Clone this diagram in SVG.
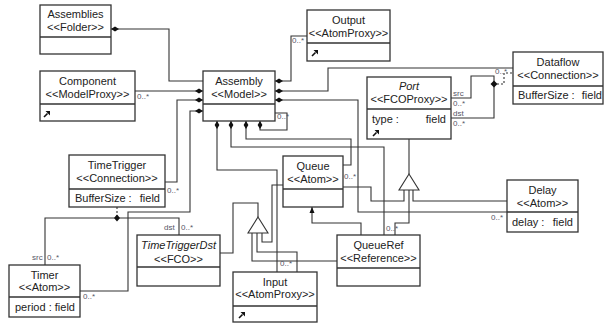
<svg xmlns="http://www.w3.org/2000/svg" width="604" height="325" viewBox="0 0 604 325">
<style>
.box{fill:#fff;stroke:#333;stroke-width:1.3}
.sep{stroke:#333;stroke-width:1.3}
.t{font-family:"Liberation Sans",Arial,sans-serif;font-size:11px;fill:#222;text-anchor:middle}
.a{font-family:"Liberation Sans",Arial,sans-serif;font-size:11px;fill:#222}
.ar{font-family:"Liberation Sans",Arial,sans-serif;font-size:11px;fill:#222;text-anchor:end}
.i{font-style:italic}
.c{fill:none;stroke:#333;stroke-width:1.1}
.d{fill:none;stroke:#333;stroke-width:1.1;stroke-dasharray:2,2}
.l{font-family:"Liberation Sans",Arial,sans-serif;font-size:8px;fill:#556}
.tri{fill:#fff;stroke:#333;stroke-width:1.1}
.j{fill:#111}
</style>
<defs>
<marker id="dia" viewBox="0 0 8 6" refX="0" refY="3" markerWidth="8" markerHeight="6" markerUnits="userSpaceOnUse" orient="auto">
<path d="M0,3 L4,0.6 L8,3 L4,5.4 Z" fill="#111"/>
</marker>
<marker id="arr" viewBox="0 0 6 6" refX="6" refY="3" markerWidth="6" markerHeight="6" markerUnits="userSpaceOnUse" orient="auto">
<path d="M0,0.5 L6,3 L0,5.5 Z" fill="#111"/>
</marker>
<symbol id="sc" viewBox="0 0 8 8" width="8" height="8">
<path d="M1,7 L4.5,3.5" stroke="#111" stroke-width="1.6"/>
<path d="M2.5,1 L7,1 L7,5.5 Z" fill="#111"/>
</symbol>
</defs>

<g id="connectors">
<!-- containment -->
<path class="c" d="M111,29 H169 V81 H203" marker-start="url(#dia)"/>
<path class="c" d="M203,91 H135" marker-start="url(#dia)"/>
<path class="c" d="M203,100 H177 V182 H165" marker-start="url(#dia)"/>
<path class="c" d="M203,111 H190 V212 H128 V291 H80" marker-start="url(#dia)"/>
<path class="c" d="M275,81 H291 V36 H307" marker-start="url(#dia)"/>
<path class="c" d="M275,91 H328 V68 H513" marker-start="url(#dia)"/>
<path class="c" d="M275,100 H358 V212 H507" marker-start="url(#dia)"/>
<path class="c" d="M260,121 V130 H287 V113 H275" marker-start="url(#dia)"/>
<path class="c" d="M246,121 V139 H351 V165 H343" marker-start="url(#dia)"/>
<path class="c" d="M231,121 V147 H384 V235" marker-start="url(#dia)"/>
<path class="c" d="M217,121 V170 H277 V272" marker-start="url(#dia)"/>
<!-- TimeTrigger connection -->
<path class="d" d="M117,207 V216"/>
<path class="c" d="M45,265 V218 H179 V235"/>
<path class="j" d="M117,214.5 L120,218 L117,221.5 L114,218 Z"/>
<!-- Dataflow connection -->
<path class="c" d="M451,98 H471 V76 H494 V84"/>
<path class="c" d="M451,118 H494 V84"/>
<path class="j" d="M494,80.5 L497.5,84 L494,87.5 L490.5,84 Z"/>
<path class="d" d="M497,84 H504 V73 H513"/>
<!-- inheritance TimeTriggerDst -->
<path class="c" d="M220,253 H233 V203 H258 V217"/>
<path class="c" d="M283,185 H272 V242 H262 V233"/>
<path class="c" d="M297,272 V252 H257 V233"/>
<path class="c" d="M337,261 H252 V233"/>
<polygon class="tri" points="258,217 268,233 248,233"/>
<!-- inheritance Port -->
<path class="c" d="M409,139 V174"/>
<path class="c" d="M343,187 H371 V201 H404 V190"/>
<path class="c" d="M507,201 H413 V190"/>
<path class="c" d="M395,235 V223 H409 V190"/>
<polygon class="tri" points="409,174 419,190 399,190"/>
<!-- reference -->
<path class="c" d="M361,235 V223 H312 V207" marker-end="url(#arr)"/>
<!-- labels -->
<text class="l" x="137" y="99">0..*</text>
<text class="l" x="167" y="193">0..*</text>
<text class="l" x="83" y="299">0..*</text>
<text class="l" x="292" y="43">0..*</text>
<text class="l" x="495" y="74">0..*</text>
<text class="l" x="491" y="220">0..*</text>
<text class="l" x="277" y="119">0..*</text>
<text class="l" x="344" y="179">0..*</text>
<text class="l" x="386" y="231">0..*</text>
<text class="l" x="280" y="266">0..*</text>
<text class="l" x="32" y="260">src</text>
<text class="l" x="47" y="260">0..*</text>
<text class="l" x="164" y="230">dst</text>
<text class="l" x="181" y="230">0..*</text>
<text class="l" x="453" y="96">src</text>
<text class="l" x="453" y="106">0..*</text>
<text class="l" x="453" y="116">dst</text>
<text class="l" x="453" y="126">0..*</text>
</g>

<g id="Assemblies">
<rect class="box" x="40" y="5" width="71" height="49"/>
<line class="sep" x1="40" y1="37" x2="111" y2="37"/>
<text class="t" x="75.5" y="18">Assemblies</text>
<text class="t" x="75.5" y="31">&lt;&lt;Folder&gt;&gt;</text>
</g>

<g id="Component">
<rect class="box" x="40" y="71" width="95" height="50"/>
<line class="sep" x1="40" y1="104" x2="135" y2="104"/>
<text class="t" x="87.5" y="85">Component</text>
<text class="t" x="87.5" y="98">&lt;&lt;ModelProxy&gt;&gt;</text>
<use href="#sc" x="43" y="110"/>
</g>

<g id="Assembly">
<rect class="box" x="203" y="71" width="72" height="50"/>
<line class="sep" x1="203" y1="104" x2="275" y2="104"/>
<text class="t" x="239" y="85">Assembly</text>
<text class="t" x="239" y="98">&lt;&lt;Model&gt;&gt;</text>
</g>

<g id="Output">
<rect class="box" x="307" y="10" width="83" height="51"/>
<line class="sep" x1="307" y1="43" x2="390" y2="43"/>
<text class="t" x="348.5" y="24">Output</text>
<text class="t" x="348.5" y="37">&lt;&lt;AtomProxy&gt;&gt;</text>
<use href="#sc" x="311" y="49"/>
</g>

<g id="Dataflow">
<rect class="box" x="513" y="52" width="90" height="52"/>
<line class="sep" x1="513" y1="86" x2="603" y2="86"/>
<text class="t" x="558" y="66">Dataflow</text>
<text class="t" x="558" y="79">&lt;&lt;Connection&gt;&gt;</text>
<text class="a" x="518" y="99">BufferSize :</text>
<text class="ar" x="602" y="99">field</text>
</g>

<g id="Port">
<rect class="box" x="367" y="77" width="84" height="62"/>
<line class="sep" x1="367" y1="109" x2="451" y2="109"/>
<text class="t i" x="409" y="90">Port</text>
<text class="t" x="409" y="103">&lt;&lt;FCOProxy&gt;&gt;</text>
<text class="a" x="372" y="123">type :</text>
<text class="ar" x="446" y="123">field</text>
<use href="#sc" x="372" y="129"/>
</g>

<g id="TimeTrigger">
<rect class="box" x="69" y="155" width="96" height="52"/>
<line class="sep" x1="69" y1="189" x2="165" y2="189"/>
<text class="t" x="117" y="169">TimeTrigger</text>
<text class="t" x="117" y="182">&lt;&lt;Connection&gt;&gt;</text>
<text class="a" x="75" y="202">BufferSize :</text>
<text class="ar" x="160" y="202">field</text>
</g>

<g id="Timer">
<rect class="box" x="9" y="265" width="71" height="52"/>
<line class="sep" x1="9" y1="297" x2="80" y2="297"/>
<text class="t" x="44.5" y="279">Timer</text>
<text class="t" x="44.5" y="291">&lt;&lt;Atom&gt;&gt;</text>
<text class="a" x="15" y="311">period :</text>
<text class="ar" x="75" y="311">field</text>
</g>

<g id="TimeTriggerDst">
<rect class="box" x="137" y="235" width="83" height="51"/>
<line class="sep" x1="137" y1="267" x2="220" y2="267"/>
<text class="t i" x="178.5" y="249">TimeTriggerDst</text>
<text class="t" x="178.5" y="263">&lt;&lt;FCO&gt;&gt;</text>
</g>

<g id="Queue">
<rect class="box" x="283" y="156" width="60" height="51"/>
<line class="sep" x1="283" y1="189" x2="343" y2="189"/>
<text class="t" x="313" y="170">Queue</text>
<text class="t" x="313" y="183">&lt;&lt;Atom&gt;&gt;</text>
</g>

<g id="QueueRef">
<rect class="box" x="337" y="235" width="83" height="51"/>
<line class="sep" x1="337" y1="268" x2="420" y2="268"/>
<text class="t" x="378.5" y="249">QueueRef</text>
<text class="t" x="378.5" y="262">&lt;&lt;Reference&gt;&gt;</text>
</g>

<g id="Delay">
<rect class="box" x="507" y="180" width="71" height="52"/>
<line class="sep" x1="507" y1="212" x2="578" y2="212"/>
<text class="t" x="542.5" y="194">Delay</text>
<text class="t" x="542.5" y="207">&lt;&lt;Atom&gt;&gt;</text>
<text class="a" x="512" y="226">delay :</text>
<text class="ar" x="573" y="226">field</text>
</g>

<g id="Input">
<rect class="box" x="233" y="272" width="84" height="50"/>
<line class="sep" x1="233" y1="306" x2="317" y2="306"/>
<text class="t" x="275" y="286">Input</text>
<text class="t" x="275" y="298">&lt;&lt;AtomProxy&gt;&gt;</text>
<use href="#sc" x="238" y="311"/>
</g>
</svg>
